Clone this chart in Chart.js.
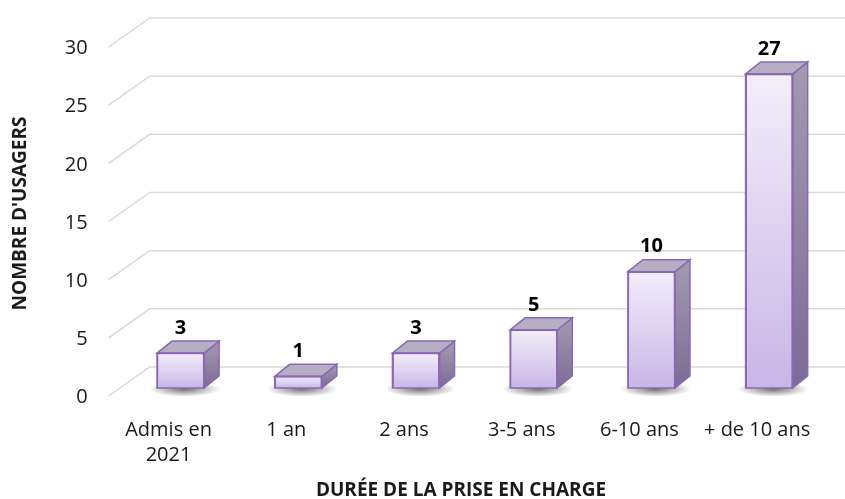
<!DOCTYPE html>
<html>
<head>
<meta charset="utf-8">
<script src="https://cdn.jsdelivr.net/npm/chart.js@4.4.1/dist/chart.umd.min.js"></script>
<style>
  html, body { margin: 0; padding: 0; background: #ffffff; }
  #wrap { width: 845px; height: 499px; position: relative; }
</style>
</head>
<body>
<div id="wrap"><canvas id="c" width="845" height="499"></canvas></div>
<script>
// ---- data ----
const categories = [["Admis en", "2021"], "1 an", "2 ans", "3-5 ans", "6-10 ans", "+ de 10 ans"];
const usagers = [3, 1, 3, 5, 10, 27];
const yTicks = [0, 5, 10, 15, 20, 25, 30];
const xTitle = "DURÉE DE LA PRISE EN CHARGE";
const yTitle = "NOMBRE D'USAGERS";

const FONT = "'Open Sans', Lato, 'Liberation Sans', sans-serif";
const DEPTH_X = 15, DEPTH_Y = 12;

const grid3d = {
  id: 'grid3d',
  beforeDatasetsDraw(chart) {
    const ctx = chart.ctx, y = chart.scales.y, area = chart.chartArea;
    ctx.save();
    ctx.strokeStyle = '#d9d9d9';
    ctx.lineWidth = 1.5;
    yTicks.forEach(v => {
      const py = y.getPixelForValue(v);
      ctx.beginPath();
      ctx.moveTo(area.left - 13, py + 8);
      ctx.lineTo(area.left + 28, py - 21);
      ctx.lineTo(chart.width, py - 21);
      ctx.stroke();
    });
    // floor shadows
    const meta = chart.getDatasetMeta(0);
    meta.data.forEach(bar => {
      const w = bar.width;
      const cx = bar.x + 4, cy = bar.base + 1;
      const g = ctx.createRadialGradient(cx, cy, 2, cx, cy, w * 0.75);
      g.addColorStop(0, 'rgba(50,50,50,0.65)');
      g.addColorStop(1, 'rgba(50,50,50,0)');
      ctx.save();
      ctx.translate(cx, cy);
      ctx.scale(1, 0.22);
      ctx.translate(-cx, -cy);
      ctx.fillStyle = g;
      ctx.beginPath();
      ctx.arc(cx, cy, w * 0.75, 0, Math.PI * 2);
      ctx.fill();
      ctx.restore();
    });
    ctx.restore();
  },
  afterDatasetsDraw(chart) {
    const ctx = chart.ctx;
    const meta = chart.getDatasetMeta(0);
    ctx.save();
    meta.data.forEach((bar, i) => {
      const l = bar.x - bar.width / 2, r = bar.x + bar.width / 2;
      const t = bar.y, b = bar.base;
      // side face
      const sg = ctx.createLinearGradient(0, t - DEPTH_Y, 0, b);
      sg.addColorStop(0, '#a39bb0');
      sg.addColorStop(1, '#7c6b95');
      ctx.fillStyle = sg;
      ctx.beginPath();
      ctx.moveTo(r, t);
      ctx.lineTo(r + DEPTH_X, t - DEPTH_Y);
      ctx.lineTo(r + DEPTH_X, b - DEPTH_Y);
      ctx.lineTo(r, b);
      ctx.closePath();
      ctx.fill();
      ctx.strokeStyle = '#8a68b5';
      ctx.lineWidth = 1.5;
      ctx.stroke();
      // top face
      ctx.fillStyle = '#b6aec2';
      ctx.beginPath();
      ctx.moveTo(l, t);
      ctx.lineTo(l + DEPTH_X, t - DEPTH_Y);
      ctx.lineTo(r + DEPTH_X, t - DEPTH_Y);
      ctx.lineTo(r, t);
      ctx.closePath();
      ctx.fill();
      ctx.stroke();
      // front outline again
      ctx.strokeRect(l, t, r - l, b - t);
      // value label
      ctx.fillStyle = '#000000';
      ctx.font = "bold 20px " + FONT;
      ctx.textAlign = 'center';
      ctx.textBaseline = 'middle';
      ctx.fillText(String(usagers[i]), bar.x, t - 25);
    });
    // x axis title
    ctx.fillStyle = '#1a1a1a';
    ctx.font = "bold 19px " + FONT;
    ctx.textAlign = 'center';
    ctx.textBaseline = 'middle';
    ctx.fillText(xTitle, 461, 491);
    ctx.restore();
  }
};

new Chart(document.getElementById('c'), {
  type: 'bar',
  data: {
    labels: categories,
    datasets: [{
      data: usagers,
      backgroundColor: (context) => {
        const chart = context.chart;
        const ys = chart.scales && chart.scales.y;
        if (!ys || context.raw === undefined) return '#dccff0';
        const top = ys.getPixelForValue(context.raw);
        const bottom = ys.getPixelForValue(0);
        if (!isFinite(top) || !isFinite(bottom) || top === bottom) return '#dccff0';
        const g = chart.ctx.createLinearGradient(0, top, 0, bottom);
        g.addColorStop(0, '#f3eefb');
        g.addColorStop(1, '#c8b6e6');
        return g;
      },
      borderColor: '#8a68b5',
      borderWidth: 1.5,
      barPercentage: 0.4,
      categoryPercentage: 1.0
    }]
  },
  options: {
    responsive: false,
    animation: false,
    devicePixelRatio: 1,
    layout: { padding: { top: 39, right: 17, left: 0, bottom: 0 } },
    plugins: { legend: { display: false }, tooltip: { enabled: false } },
    scales: {
      x: {
        offset: true,
        grid: { display: false, drawTicks: false },
        border: { display: false },
        ticks: {
          color: '#1a1a1a',
          font: { family: FONT, size: 20, lineHeight: 1.25 },
          padding: 30,
          labelOffset: -12,
          maxRotation: 0,
          autoSkip: false
        },
        afterFit(scale) { scale.height = 111; scale.paddingLeft = 0; scale.paddingRight = 0; }
      },
      y: {
        min: 0,
        max: 30,
        afterBuildTicks(scale) { scale.ticks = yTicks.map(v => ({ value: v })); },
        grid: { display: false, drawTicks: false },
        border: { display: false },
        ticks: {
          color: '#1a1a1a',
          font: { family: FONT, size: 20 },
          padding: 34,
          labelOffset: 9.5
        },
        title: {
          display: true,
          text: yTitle,
          color: '#1a1a1a',
          font: { family: FONT, size: 19, weight: 'bold' },
          padding: { top: 9.6, bottom: 0 }
        },
        afterFit(scale) { scale.width = 121.7; scale.paddingTop = 0; scale.paddingBottom = 0; }
      }
    }
  },
  plugins: [grid3d]
});
</script>
</body>
</html>
